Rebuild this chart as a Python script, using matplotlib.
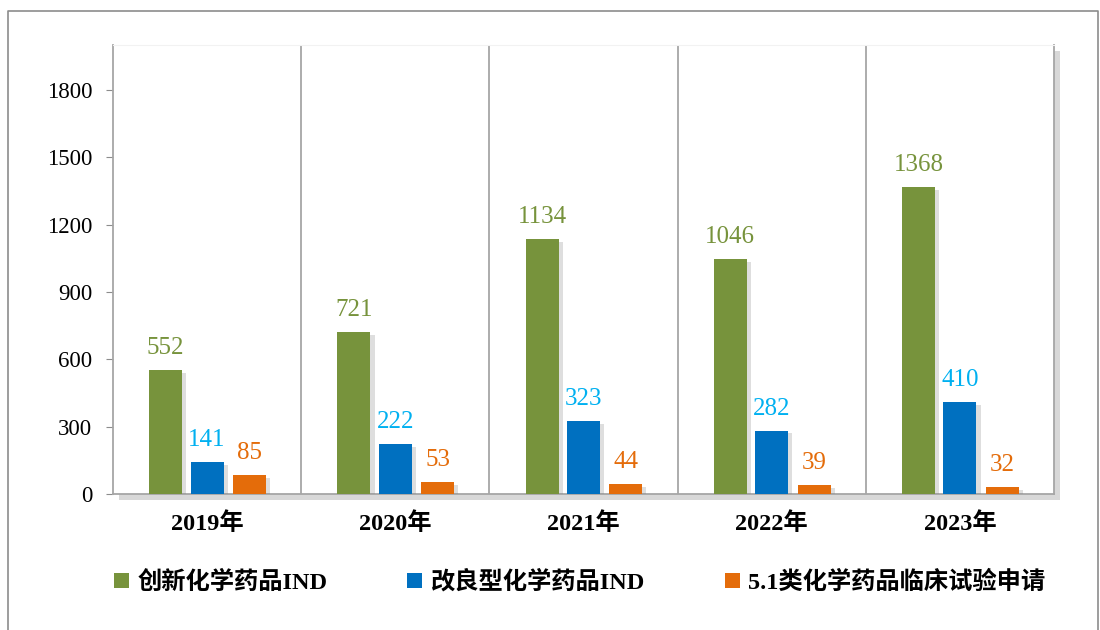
import numpy as np
import matplotlib
matplotlib.use('Agg')
from matplotlib import pyplot as plt
import matplotlib.patheffects as pe
from matplotlib.patches import Patch
from matplotlib.lines import Line2D

plt.rcParams['font.family'] = ['Liberation Serif', 'Noto Sans CJK SC']

# Data
years = ['2019年', '2020年', '2021年', '2022年', '2023年']
innovative = [552, 721, 1134, 1046, 1368]
improved = [141, 222, 323, 282, 410]
class51 = [85, 53, 44, 39, 32]
series_names = ['创新化学药品IND', '改良型化学药品IND', '5.1类化学药品临床试验申请']

bar_colors = ['#77933C', '#0070C0', '#E46C0A']
label_colors = ['#77933C', '#00B0F0', '#E46C0A']

fig = plt.figure(figsize=(11, 6.3), dpi=100)
ax = fig.add_axes([0.1027, 0.2159, 0.8555, 0.7127])

# figure border (open at bottom)
fig.add_artist(Line2D([0.0075, 0.0075, 0.998, 0.998], [0.0, 0.983, 0.983, 0.0],
                      transform=fig.transFigure, color='#8c8c8c', lw=1.2))

# plot area shadow
ax.patch.set_path_effects([pe.SimplePatchShadow(offset=(4, -4), shadow_rgbFace='#808080', alpha=0.3),
                           pe.Normal()])

x = np.arange(len(years))
width = 0.175
offsets = [-0.22, 0.0, 0.225]
shadow = [pe.SimplePatchShadow(offset=(3, -2), shadow_rgbFace='#7f7f7f', alpha=0.25), pe.Normal()]

for vals, off, bc, lc in zip([innovative, improved, class51], offsets, bar_colors, label_colors):
    bars = ax.bar(x + off, vals, width, color=bc, zorder=3)
    for b in bars:
        b.set_path_effects(shadow)
    for xi, v in zip(x + off, vals):
        ax.annotate(str(v), (xi, v), xytext=(0, 8), textcoords='offset points',
                    ha='center', va='bottom', fontsize=18, color=lc, zorder=4)

for sep in np.arange(0.5, len(years) - 0.5, 1.0):
    ax.axvline(sep, color='#a6a6a6', lw=1.3, zorder=1)

ax.set_xlim(-0.5, len(years) - 0.5)
ax.set_ylim(0, 2000)
ax.set_yticks(np.arange(0, 1801, 300))
ax.set_xticks(x)
ax.set_xticklabels(years, fontsize=17.5, fontweight='bold')
ax.tick_params(axis='x', length=0, pad=13)
ax.tick_params(axis='y', labelsize=16.5, length=5, color='#8c8c8c', pad=10, direction='out')

for s in ['left', 'bottom', 'right']:
    ax.spines[s].set_color('#a6a6a6')
    ax.spines[s].set_linewidth(1.3)
ax.spines['top'].set_color('#f2f2f2')

handles = [Patch(facecolor=c, edgecolor='none') for c in bar_colors]
fig.legend(handles, series_names, loc='center', bbox_to_anchor=(0.527, 0.076), ncol=3,
           frameon=False, prop={'size': 17.5, 'weight': 'bold'},
           handlelength=0.6, handleheight=0.6, handletextpad=0.35, columnspacing=3.3)

plt.savefig('out.png', dpi=100)
